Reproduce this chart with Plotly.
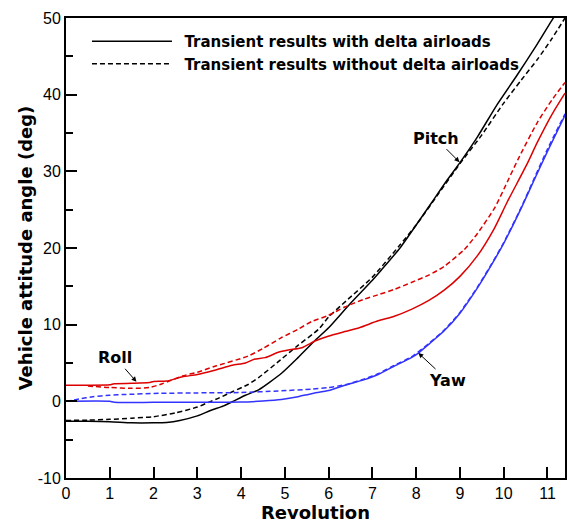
import plotly.graph_objects as go

# Revolution samples and attitude angles (deg) for each case
pitch_rev = [0, 0.5, 1.0, 1.5, 2.0, 2.3, 2.6, 3.0, 3.3, 3.6, 3.8, 4.1, 4.4, 4.93, 5.3,
             5.7, 6.0, 6.5, 7.0, 7.2, 7.63, 8.0, 8.34, 8.7, 9.02, 9.4, 9.86, 10.3, 10.7,
             11.1, 11.4]
pitch_with = [-2.6, -2.6, -2.65, -2.8, -2.8, -2.75, -2.5, -1.9, -1.2, -0.6, -0.05, 0.8,
              1.5, 3.7, 5.7, 8.0, 9.6, 12.8, 15.8, 17.1, 20.0, 23.0, 25.8, 28.8, 31.3,
              34.5, 38.8, 42.5, 46.0, 49.7, 52.3]

pitch_rev_nd = [0, 0.5, 1.0, 1.5, 2.0, 2.5, 3.0, 3.27, 3.5, 3.8, 4.16, 4.4, 4.9, 5.3,
                5.77, 6.0, 6.4, 7.0, 7.6, 8.0, 8.5, 9.0, 9.48, 10.0, 10.4, 10.77, 11.1,
                11.4]
pitch_without = [-2.5, -2.45, -2.35, -2.2, -2.0, -1.5, -0.75, -0.1, 0.45, 1.25, 2.2, 3.1,
                 5.4, 7.3, 9.4, 11.0, 13.1, 16.2, 20.2, 23.0, 27.0, 31.0, 34.6, 38.9,
                 41.9, 44.6, 47.3, 50.0]

roll_rev = [0, 0.5, 1.0, 1.1, 1.5, 1.9, 2.0, 2.3, 2.66, 3.0, 3.42, 3.8, 4.1, 4.3, 4.55,
            4.85, 5.08, 5.39, 5.7, 5.99, 6.37, 6.7, 7.13, 7.5, 7.89, 8.3, 8.64, 9.0, 9.4,
            9.78, 10.08, 10.52, 10.77, 11.1, 11.4]
roll_with = [2.1, 2.1, 2.15, 2.3, 2.35, 2.45, 2.6, 2.65, 3.2, 3.5, 4.1, 4.7, 5.0, 5.5,
             5.7, 6.4, 6.7, 7.0, 7.9, 8.5, 9.1, 9.6, 10.5, 11.1, 12.0, 13.2, 14.5, 16.3,
             19.0, 22.5, 26.0, 30.8, 33.8, 37.4, 40.2]

roll_rev_nd = [0.5, 1.0, 1.5, 1.91, 2.2, 2.66, 3.0, 3.42, 4.16, 4.5, 4.92, 5.3, 5.61,
               5.99, 6.37, 6.8, 7.13, 7.5, 7.89, 8.3, 8.64, 9.1, 9.4, 9.8, 10.08,
               10.33, 10.77, 11.1, 11.4]
roll_without = [2.0, 1.8, 1.7, 1.8, 2.3, 3.3, 3.8, 4.6, 5.9, 6.9, 8.3, 9.4, 10.4, 11.2,
                12.3, 13.3, 13.9, 14.6, 15.5, 16.5, 17.6, 19.8, 21.9, 25.3, 28.6,
                31.6, 36.4, 39.3, 41.6]

yaw_rev = [0, 1.0, 1.1, 2.0, 3.0, 4.0, 4.5, 4.92, 5.3, 5.61, 6.0, 6.37, 6.8, 7.13, 7.5,
           7.89, 8.05, 8.3, 8.64, 9.0, 9.4, 9.7, 10.0, 10.4, 10.73, 11.0, 11.4]
yaw_with = [0.0, 0.0, -0.12, -0.13, -0.13, -0.1, 0.05, 0.25, 0.6, 1.0, 1.4, 2.1, 2.8,
            3.5, 4.6, 5.7, 6.3, 7.5, 9.2, 11.5, 14.8, 17.6, 20.6, 25.2, 29.3,
            32.6, 37.3]

yaw_rev_nd = [0, 0.3, 0.61, 1.0, 1.37, 2.13, 3.0, 4.0, 4.85, 5.61, 6.0, 6.4, 6.8, 7.13,
              7.5, 7.89, 8.3, 8.64, 9.0, 9.4, 9.7, 10.0, 10.4, 10.73, 11.0, 11.4]
yaw_without = [0.0, 0.3, 0.6, 0.8, 0.9, 1.04, 1.1, 1.15, 1.35, 1.6, 1.8, 2.2, 2.9, 3.6,
               4.7, 5.8, 7.6, 9.3, 11.6, 14.9, 17.7, 20.7, 25.3, 29.5, 32.9, 37.5]

legend_labels = ["Transient results with delta airloads",
                 "Transient results without delta airloads"]

y_tickvals = [-10, 0, 10, 20, 30, 40, 50]
y_ticktext = ["-10", "0", "10", "20", "30", "40", "50"]

# Label text and the curve point each arrow points at
labels = ["Pitch", "Roll", "Yaw"]
label_rev = [8.99, 1.61, 8.05]
label_val = [31.2, 2.55, 6.3]

RED = "#dd0000"
BLUE = "#3333ff"
BLACK = "#000000"
DASH = "5px,3px"
BOLD = "DejaVu Sans"
PLAIN = "Liberation Sans, Arial, sans-serif"

fig = go.Figure()

series = [
    (pitch_rev, pitch_with, BLACK, "solid"),
    (pitch_rev_nd, pitch_without, BLACK, DASH),
    (roll_rev, roll_with, RED, "solid"),
    (roll_rev_nd, roll_without, RED, DASH),
    (yaw_rev, yaw_with, BLUE, "solid"),
    (yaw_rev_nd, yaw_without, BLUE, DASH),
]
for xs, ys, color, dash in series:
    fig.add_trace(go.Scatter(
        x=xs, y=ys, mode="lines", showlegend=False, hoverinfo="skip",
        line=dict(color=color, width=1.5, dash=dash, shape="spline", smoothing=0.6),
    ))

# Legend-only entries (en space keeps a gap between sample line and label)
for name, dash in zip(legend_labels, ["solid", DASH]):
    fig.add_trace(go.Scatter(
        x=[None], y=[None], mode="lines", name="\u2002" + name,
        line=dict(color=BLACK, width=1.5, dash=dash),
    ))

offsets = [(-24, -24), (-21, -24), (29, 27)]
for text, xr, yv, (ax, ay) in zip(labels, label_rev, label_val, offsets):
    fig.add_annotation(
        x=xr, y=yv, xref="x", yref="y", text=text, showarrow=True,
        ax=ax, ay=ay, arrowhead=2, arrowsize=1, arrowwidth=1, arrowcolor=BLACK,
        standoff=0, startstandoff=0,
        font=dict(family=BOLD, size=16, color=BLACK, weight="bold"),
    )

fig.update_layout(
    width=569, height=523,
    margin=dict(l=66, r=2, t=18, b=45),
    paper_bgcolor="white", plot_bgcolor="white",
    font=dict(family=PLAIN, size=16, color=BLACK),
    legend=dict(
        x=0.042, y=0.985, xanchor="left", yanchor="top",
        bgcolor="rgba(0,0,0,0)", itemwidth=80,
        font=dict(family=BOLD, size=15, color=BLACK, weight="bold"),
        tracegroupgap=0,
    ),
    xaxis=dict(
        range=[0, 11.4], tickmode="linear", tick0=0, dtick=1,
        ticks="inside", ticklen=11, tickwidth=2, tickcolor=BLACK,
        showline=True, linewidth=2, linecolor=BLACK, mirror=True,
        showgrid=False, zeroline=False,
        tickfont=dict(family=PLAIN, size=16),
        title=dict(text="Revolution", standoff=0,
                   font=dict(family=BOLD, size=18, weight="bold")),
    ),
    yaxis=dict(
        range=[-10, 50], tickmode="array", tickvals=y_tickvals, ticktext=y_ticktext,
        ticks="inside", ticklen=11, tickwidth=2, tickcolor=BLACK,
        minor=dict(tickmode="linear", tick0=-10, dtick=5, ticks="inside", ticklen=7,
                   tickwidth=1.5, tickcolor=BLACK),
        showline=True, linewidth=2, linecolor=BLACK, mirror=True,
        showgrid=False, zeroline=False,
        tickfont=dict(family=PLAIN, size=16),
        title=dict(text="Vehicle attitude angle (deg)", standoff=0,
                   font=dict(family=BOLD, size=18, weight="bold")),
    ),
)

fig.write_html("out.html")
